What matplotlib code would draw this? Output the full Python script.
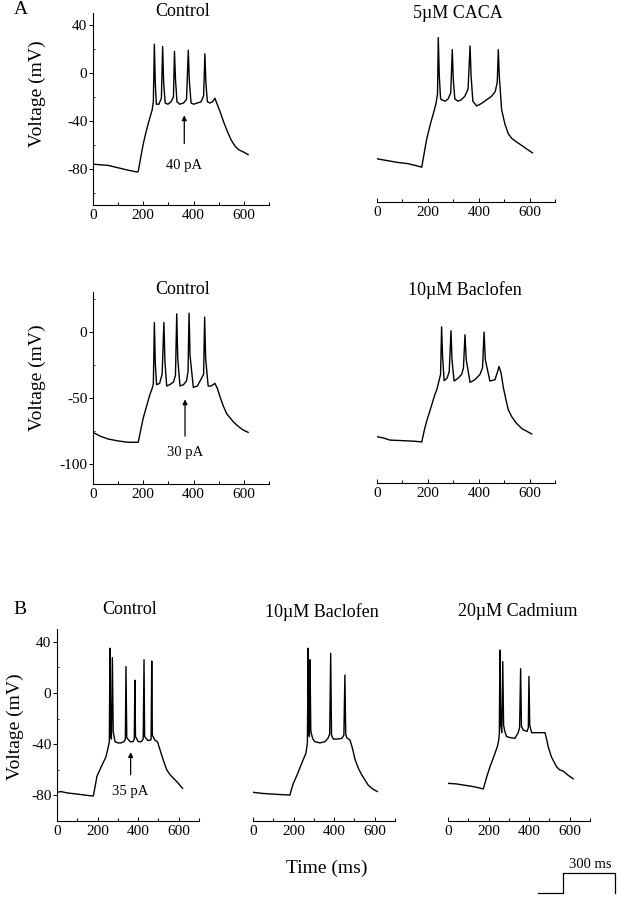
import matplotlib
matplotlib.use("Agg")
import matplotlib.pyplot as plt
from matplotlib.lines import Line2D
from matplotlib.ticker import MultipleLocator

plt.rcParams['font.family'] = ['Liberation Serif', 'DejaVu Serif']
plt.rcParams['axes.unicode_minus'] = False

W, H = 618, 899

# ---- panel A, row 1 ----
a1_ctrl_t = [0, 30, 60, 100, 140, 175, 180, 190, 200, 210, 220, 228, 235, 240, 244, 248, 252, 262, 272, 277,
             281, 287, 298, 310, 320, 324, 328, 334, 345, 360, 372, 379, 383, 390, 400, 415, 430, 440, 445, 449,
             455, 465, 475, 485, 492, 505, 520, 535, 550, 565, 580, 600, 617]
a1_ctrl_v = [-76, -76.5, -77, -79, -81, -82.5, -82, -70, -59, -50, -42, -36, -31, -24, 24, -10, -26, -26, -21, 22,
             -8, -25, -26, -24, -20, 18, -5, -24, -26, -25, -22, 19, -6, -25, -26, -25, -24, -19, 16, -8,
             -24, -25, -24, -21, -25, -32, -41, -49, -56, -61, -64, -66, -68]

a1_caca_t = [0, 40, 80, 120, 160, 176, 185, 195, 210, 222, 232, 238, 241, 245, 250, 256, 268, 280, 290, 296,
             300, 306, 318, 330, 345, 358, 366, 370, 377, 392, 410, 430, 450, 465, 473, 477, 481, 490, 503, 516,
             530, 549, 570, 590, 611]
a1_caca_v = [-74, -75.5, -77, -78, -80, -81, -70, -58, -45, -36, -28, -20, 27, -5, -24, -25, -26, -24, -19, 17,
             -8, -24, -26, -25, -22, -16, 20, -5, -26, -30, -28, -25, -22, -18, -10, 17, -5, -33, -45, -53,
             -57, -60, -63, -66, -69]

# ---- panel A, row 2 ----
a2_ctrl_t = [0, 30, 60, 100, 140, 180, 190, 200, 215, 227, 235, 240, 244, 248, 253, 265, 275, 282, 286, 293,
             305, 320, 328, 333, 337, 346, 360, 372, 378, 382, 386, 399, 415, 432, 440, 444, 448, 458, 470, 485,
             495, 505, 518, 532, 545, 558, 575, 595, 617]
a2_ctrl_v = [-76, -79, -81, -82.5, -83.5, -83.5, -74, -65, -55, -47, -43, -39.5, 7, -25, -40, -39, -32, 7, -22, -41,
             -40, -38, -33, 13.5, -20, -41, -40, -37, -30, 14, -18, -42, -41, -35, -32, 11, -20, -41, -41, -39,
             -43, -49, -56, -62, -65, -68, -71, -74, -76]

a2_bacl_t = [0, 25, 51, 100, 150, 176, 185, 195, 212, 228, 236, 241, 250, 254, 258, 264, 275, 284, 291, 295,
             303, 318, 333, 340, 346, 351, 366, 385, 405, 415, 421, 426, 444, 464, 474, 480, 488, 497, 507, 516,
             530, 549, 570, 590, 608]
a2_bacl_v = [-80, -81, -82.6, -83, -83.5, -84, -76, -68.5, -58, -48, -44, -40, -33, 3, -20, -37.7, -36, -31, 0, -22,
             -38, -36, -33, -28, -3, -22, -39, -37, -33, -28, -1, -22, -38, -37, -31, -27, -32, -43, -52, -59.5,
             -65, -70, -74, -76, -78]

# ---- panel B ----
b_ctrl_t = [0, 20, 48, 100, 150, 179, 188, 197, 220, 241, 253, 258, 261, 264, 268, 273, 277, 286, 300, 315,
            330, 337, 340, 344, 360, 375, 381, 384, 387, 400, 415, 425, 429, 432, 447, 460, 464, 467, 470, 483,
            495, 508, 525, 541, 558, 574, 595, 619]
b_ctrl_v = [-77.6, -77, -78, -79, -80, -80.5, -73, -65, -57, -50, -42, -38, 35, -30, -36, 27.6, -30, -38, -39, -39,
            -38, -36, 20.6, -35, -38, -38, -36, 10, -34, -38, -38, -36, 26, -34, -37, -37, -36, 25, -33, -37,
            -38, -44.5, -53, -60, -64, -66.6, -70, -74.5]

b_bacl_t = [0, 50, 100, 150, 182, 190, 199, 220, 240, 261, 268, 272, 275, 278, 281, 285, 295, 305, 330, 355,
            371, 378, 383, 387, 396, 415, 437, 448, 453, 457, 462, 478, 490, 503, 520, 536, 552, 568, 590, 613]
b_bacl_v = [-77.6, -78.5, -79, -79.5, -79.7, -75, -70.6, -63, -55, -47, -39, 35, -30, -34, 26, -30, -36, -38, -39, -38,
            -35, -32, 31, -33, -36, -36, -35.5, -33, 14, -32, -35, -36.7, -43, -52, -59, -64, -68, -72, -75, -77]

b_cadm_t = [0, 40, 80, 120, 150, 174, 190, 207, 225, 243, 250, 253, 256, 260, 265, 270, 274, 280, 289, 310,
            330, 346, 353, 358, 362, 371, 390, 396, 399, 403, 412, 440, 460, 478, 486, 494, 510, 535, 550, 568,
            590, 617]
b_cadm_v = [-70.6, -71, -72, -73, -74, -75, -66, -57.6, -50, -42, -37, -32, 33.6, -25, -31, 24.5, -25, -30, -34, -35,
            -35.4, -31, -27, 19, -26, -29, -30, -27, 13, -25, -31, -31, -31, -31, -36, -42, -50, -57.6, -60, -61,
            -64, -67]


def fx(px):
    return px / W


def fy(py):
    return 1 - py / H


def make_axes(left, right, top, bottom, ylim, yticks, with_y):
    ax = fig.add_axes([fx(left), fy(bottom), (right - left) / W, (bottom - top) / H])
    ax.set_xlim(0, 700)
    ax.set_ylim(*ylim)
    ax.patch.set_alpha(0)
    for s in ('top', 'right'):
        ax.spines[s].set_visible(False)
    for s in ('left', 'bottom'):
        ax.spines[s].set_linewidth(0.8)
    ax.set_xticks([0, 200, 400, 600])
    ax.xaxis.set_minor_locator(MultipleLocator(100))
    ax.tick_params(axis='x', direction='in', length=3, width=0.7, labelsize=11, pad=3)
    ax.tick_params(axis='x', which='minor', direction='in', length=2, width=0.7)
    if with_y:
        ax.set_yticks(yticks)
        ax.tick_params(axis='y', direction='out', length=3, width=0.7, labelsize=11, pad=1)
        ax.tick_params(axis='y', which='minor', direction='in', length=1.5, width=0.6)
    else:
        ax.spines['left'].set_visible(False)
        ax.set_yticks([])
    return ax


def trace(ax, t, v):
    ax.plot(t, v, color='k', lw=1.0)


def stim_arrow(ax, t, v0, v1, label, vlab):
    ax.annotate('', xy=(t, v1), xytext=(t, v0),
                arrowprops=dict(arrowstyle='-|>', color='k', lw=0.9, mutation_scale=7))
    ax.text(t, vlab, label, ha='center', va='center', fontsize=10.5)


fig = plt.figure(figsize=(W / 100, H / 100), dpi=100)

# A row 1
ax = make_axes(93, 269, 13, 205, (-110, 50), [-80, -40, 0, 40], True)
ax.yaxis.set_minor_locator(MultipleLocator(20))
trace(ax, a1_ctrl_t, a1_ctrl_v)
stim_arrow(ax, 363, -61, -33, '40 pA', -77)
ax = make_axes(377, 555, 10, 202, (-110, 50), [], False)
trace(ax, a1_caca_t, a1_caca_v)

# A row 2
ax = make_axes(93, 269, 292, 484, (-115, 30), [-100, -50, 0], True)
ax.yaxis.set_minor_locator(MultipleLocator(25))
trace(ax, a2_ctrl_t, a2_ctrl_v)
stim_arrow(ax, 366, -81, -49, '30 pA', -91)
ax = make_axes(377, 555, 291, 483, (-115, 30), [], False)
trace(ax, a2_bacl_t, a2_bacl_v)

# B row
ax = make_axes(57, 199, 629, 821, (-100, 50), [-80, -40, 0, 40], True)
ax.yaxis.set_minor_locator(MultipleLocator(20))
trace(ax, b_ctrl_t, b_ctrl_v)
stim_arrow(ax, 363, -66, -44, '35 pA', -77)
ax = make_axes(253, 395, 629, 821, (-100, 50), [], False)
trace(ax, b_bacl_t, b_bacl_v)
ax = make_axes(448, 590, 629, 821, (-100, 50), [], False)
trace(ax, b_cadm_t, b_cadm_v)

# titles and labels
title_kw = dict(ha='center', va='center', fontsize=13)
fig.text(fx(183), fy(11), 'Control', **title_kw)
fig.text(fx(458), fy(13), '5\u00b5M CACA', **title_kw)
fig.text(fx(183), fy(290), 'Control', **title_kw)
fig.text(fx(465), fy(290), '10\u00b5M Baclofen', **title_kw)
fig.text(fx(130), fy(610), 'Control', **title_kw)
fig.text(fx(322), fy(612), '10\u00b5M Baclofen', **title_kw)
fig.text(fx(518), fy(612), '20\u00b5M Cadmium', **title_kw)

fig.text(fx(21), fy(10), 'A', ha='center', va='center', fontsize=14)
fig.text(fx(20), fy(610), 'B', ha='center', va='center', fontsize=14)

ylab_kw = dict(ha='center', va='center', rotation=90, fontsize=14)
fig.text(fx(37), fy(94), 'Voltage (mV)', **ylab_kw)
fig.text(fx(37), fy(378), 'Voltage (mV)', **ylab_kw)
fig.text(fx(15), fy(727), 'Voltage (mV)', **ylab_kw)

fig.text(fx(327), fy(868), 'Time (ms)', ha='center', va='center', fontsize=14)

# stimulus scale bar
fig.text(fx(590), fy(864), '300 ms', ha='center', va='center', fontsize=10.5)
fig.add_artist(Line2D([fx(538), fx(563), fx(563), fx(615), fx(615)],
                      [fy(893), fy(893), fy(873), fy(873), fy(893)],
                      color='k', lw=0.9, transform=fig.transFigure))

fig.savefig('out.png', dpi=100)
